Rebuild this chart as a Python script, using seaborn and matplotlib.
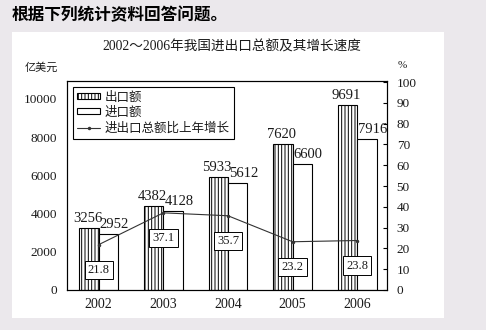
import matplotlib
matplotlib.use('Agg')
import matplotlib.pyplot as plt
import seaborn as sns
import pandas as pd
import numpy as np
from matplotlib.patches import Rectangle, Patch
from matplotlib.lines import Line2D

years = ['2002', '2003', '2004', '2005', '2006']
exports = [3256, 4382, 5933, 7620, 9691]
imports = [2952, 4128, 5612, 6600, 7916]
growth = [21.8, 37.1, 35.7, 23.2, 23.8]
series_names = ['出口额', '进口额']
line_name = '进出口总额比上年增长'
left_ticks = [0, 2000, 4000, 6000, 8000, 10000]
right_ticks = list(range(0, 101, 10))

sns.set_theme(style='white')
plt.rcParams['font.family'] = ['Liberation Serif', 'Noto Sans CJK SC']
plt.rcParams['hatch.linewidth'] = 0.7
plt.rcParams['hatch.color'] = 'black'
plt.rcParams['axes.unicode_minus'] = False

TXT = '#1a1a1a'
W, H = 486, 330

df = pd.DataFrame({
    'year': years * 2,
    'value': exports + imports,
    'kind': [series_names[0]] * len(years) + [series_names[1]] * len(years),
})

fig = plt.figure(figsize=(W / 100, H / 100), dpi=100, facecolor='#ebe8ec')
fig.patches.append(Rectangle((12 / W, 1 - 318 / H), 432 / W, 286 / H,
                             transform=fig.transFigure, facecolor='white',
                             edgecolor='none', zorder=-5))
ax = fig.add_axes([67 / W, 1 - 290 / H, 320 / W, 209 / H])

sns.barplot(data=df, x='year', y='value', hue='kind', hue_order=series_names,
            palette=['white', 'white'], width=0.6, edgecolor='black',
            linewidth=0.8, saturation=1, legend=False, ax=ax)
for bar in ax.containers[0]:
    bar.set_hatch('|||||')

for ci, dx in ((0, -1), (1, 6)):
    for bar in ax.containers[ci]:
        h = bar.get_height()
        ax.annotate(f'{int(round(h))}', (bar.get_x() + bar.get_width() / 2, h),
                    xytext=(dx, 3), textcoords='offset pixels', ha='center',
                    va='bottom', fontsize=10.5, color=TXT)

ax.set_xlim(-0.49, 4.46)
ax.set_ylim(0, 10940)
ax.set_yticks(left_ticks)
ax.set_xlabel('')
ax.set_ylabel('')
ax.tick_params(axis='y', length=0, pad=7, labelsize=9.5, labelcolor=TXT)
ax.tick_params(axis='x', length=0, pad=6, labelsize=10, labelcolor=TXT)

ax2 = ax.twinx()
sns.lineplot(x=np.arange(len(years)), y=growth, ax=ax2, color='#333333',
             linewidth=0.8, marker='o', markersize=2.5, markeredgewidth=0)
ax2.set_ylim(0, 100.5)
ax2.set_yticks(right_ticks)
ax2.set_ylabel('')
ax2.tick_params(axis='y', direction='in', length=3, width=0.8, pad=7,
                labelsize=9.5, labelcolor=TXT, color='black')
for i, g in enumerate(growth):
    ax2.annotate(f'{g}', (i, g), xytext=(0, -25), textcoords='offset pixels',
                 ha='center', va='center', fontsize=9, color=TXT,
                 bbox=dict(boxstyle='square,pad=0.25', fc='white', ec='black', lw=0.7))

for a in (ax, ax2):
    for s in a.spines.values():
        s.set_visible(True)
        s.set_color('black')
        s.set_linewidth(0.8)

handles = [Patch(fc='white', ec='black', hatch='|||||', lw=0.8),
           Patch(fc='white', ec='black', lw=0.8),
           Line2D([], [], color='#333333', lw=0.8, marker='o', ms=2.5, mew=0)]
leg = ax2.legend(handles, series_names + [line_name], loc='upper left',
                 bbox_to_anchor=(6 / 320, 1 - 6 / 209), borderaxespad=0,
                 frameon=True, fancybox=False, edgecolor='black', framealpha=1,
                 fontsize=9, handlelength=1.8, handleheight=0.4,
                 handletextpad=0.4, labelspacing=0.25, borderpad=0.35)
leg.get_frame().set_linewidth(0.8)
for t in leg.get_texts():
    t.set_color(TXT)

fig.text(12 / W, 1 - 15 / H, '根据下列统计资料回答问题。', fontsize=12,
         fontweight='bold', ha='left', va='center', color='black',
         family=['Noto Sans CJK SC'])
fig.text(232 / W, 1 - 47 / H, '2002～2006年我国进出口总额及其增长速度',
         fontsize=9.8, ha='center', va='center', color=TXT)
fig.text(41 / W, 1 - 68 / H, '亿美元', fontsize=8, ha='center', va='center', color=TXT)
fig.text(402 / W, 1 - 66 / H, '%', fontsize=8, ha='center', va='center', color=TXT)

fig.savefig('out.png', dpi=100, facecolor=fig.get_facecolor())
